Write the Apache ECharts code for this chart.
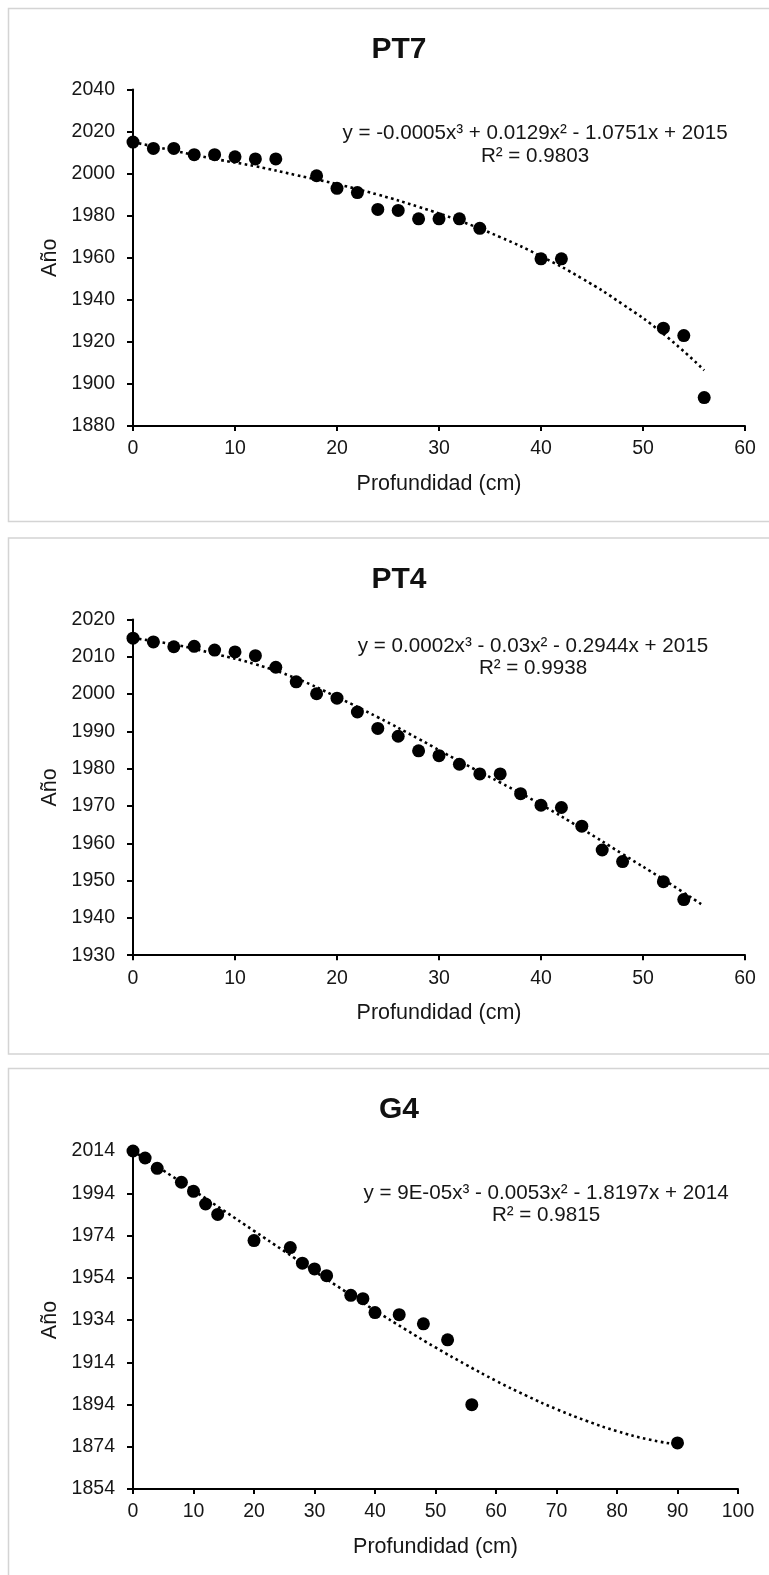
<!DOCTYPE html>
<html>
<head>
<meta charset="utf-8">
<script src="https://cdn.jsdelivr.net/npm/echarts@6/dist/echarts.min.js"></script>
<style>
html,body{margin:0;padding:0;background:#fff;}
#chart{width:769px;height:1575px;}
</style>
</head>
<body>
<div id="chart"></div>
<script>
// ---------- data ----------
var titles = ['PT7', 'PT4', 'G4'];
var xAxisName = 'Profundidad (cm)';
var yAxisName = 'Año';

var PT7_depth = [0,2,4,6,8,10,12,14,18,20,22,24,26,28,30,32,34,40,42,52,54,56];
var PT7_year  = [2015,2012,2012,2009,2009,2008,2007,2007,1999,1993,1991,1983,1982.5,1978.5,1978.5,1978.5,1974,1959.5,1959.5,1926.5,1923,1893.5];
var PT7_trendDepth = [0,4,8,12,16,20,24,28,32,36,40,44,48,52,56];
var PT7_trendYear  = [2015,2010.9,2007,2003.5,1999.3,1995,1990,1984.2,1977.6,1969.8,1960.7,1950.2,1937.9,1923.8,1906.5];
var PT7_eq = 'y = -0.0005x³ + 0.0129x² - 1.0751x + 2015';
var PT7_r2 = 'R² = 0.9803';

var PT4_depth = [0,2,4,6,8,10,12,14,16,18,20,22,24,26,28,30,32,34,36,38,40,42,44,46,48,52,54];
var PT4_year  = [2015,2014,2012.7,2012.8,2011.8,2011.3,2010.3,2007.2,2003.3,2000.1,1998.9,1995.2,1990.8,1988.7,1984.8,1983.5,1981.2,1978.6,1978.6,1973.3,1970.2,1969.6,1964.6,1958.2,1955.1,1949.7,1944.9];
var PT4_trendDepth = [0,4,8,12,16,20,24,28,32,36,40,44,48,52,55.7];
var PT4_trendYear  = [2015,2013.3,2010.8,2008,2004.2,1999.2,1993.8,1988,1982,1976.3,1970.4,1963.9,1957.1,1950.3,1943.7];
var PT4_eq = 'y = 0.0002x³ - 0.03x² - 0.2944x + 2015';
var PT4_r2 = 'R² = 0.9938';

var G4_depth = [0,2,4,8,10,12,14,20,26,28,30,32,36,38,40,44,48,52,56,90];
var G4_year  = [2014,2010.7,2005.8,1999.2,1994.9,1988.9,1984,1971.6,1968.3,1960.9,1958.2,1955,1945.7,1944.1,1937.5,1936.5,1932.2,1924.6,1893.9,1875.8];
var G4_trendDepth = [0,5,10,15,20,25,30,35,40,45,50,55,60,65,70,75,80,85,90];
var G4_trendYear  = [2014,2004.8,1995.4,1985.8,1976.2,1966.6,1957.1,1947.7,1938.5,1929.6,1921,1912.9,1905.2,1898.2,1891.8,1886.2,1881.4,1877.6,1875];
var G4_eq = 'y = 9E-05x³ - 0.0053x² - 1.8197x + 2014';
var G4_r2 = 'R² = 0.9815';

// axis ranges / tick steps
var yMin = [1880, 1930, 1854];
var yMax = [2040, 2020, 2014];
var yStep = [20, 10, 20];
var xMax = [60, 60, 100];
var xStep = [10, 10, 10];

// ---------- layout ----------
var FONT = '"Liberation Sans", Arial, Helvetica, sans-serif';
var TXT = '#161616';
var grids = [
  {left:133, top:89.5, width:612, height:336.5},
  {left:133, top:619.5, width:612, height:335.7},
  {left:133, top:1151, width:605, height:338}
];
var titleY = [29, 559.5, 1089.5];
var eqX = [530, 528, 541];
var eqTop = [117.3, 629.8, 1176.8];
var panels = [
  {y:8.5, h:513},
  {y:538, h:516},
  {y:1068.5, h:600}
];

var pairs = function(xs, ys){ return xs.map(function(x,i){ return [x, ys[i]]; }); };
var pts = [pairs(PT7_depth, PT7_year), pairs(PT4_depth, PT4_year), pairs(G4_depth, G4_year)];
var trends = [pairs(PT7_trendDepth, PT7_trendYear), pairs(PT4_trendDepth, PT4_trendYear), pairs(G4_trendDepth, G4_trendYear)];
var eqs = [[PT7_eq, PT7_r2], [PT4_eq, PT4_r2], [G4_eq, G4_r2]];
var plain = function(v){ return String(v); };

var title = [], xAxis = [], yAxis = [], series = [], graphic = [];
for (var i = 0; i < 3; i++) {
  graphic.push({
    type:'rect', silent:true, z:-10,
    shape:{x:8.5, y:panels[i].y, width:800, height:panels[i].h},
    style:{fill:'#fff', stroke:'#d4d4d4', lineWidth:1.5}
  });
  title.push({
    text: titles[i], left: 394, top: titleY[i], textAlign:'center',
    textStyle:{fontFamily:FONT, fontSize:30, fontWeight:'bold', color:'#111', lineHeight:31}
  });
  title.push({
    text: eqs[i][0] + '\n' + eqs[i][1], left: eqX[i], top: eqTop[i], textAlign:'center',
    textStyle:{fontFamily:FONT, fontSize:20.6, fontWeight:'normal', color:TXT, lineHeight:22.5, align:'center'}
  });
  xAxis.push({
    type:'value', gridIndex:i, min:0, max:xMax[i], interval:xStep[i],
    name:xAxisName, nameLocation:'middle', nameGap:47,
    nameTextStyle:{fontFamily:FONT, fontSize:21.5, color:TXT},
    axisLine:{show:true, onZero:false, lineStyle:{color:'#000', width:2}},
    axisTick:{show:true, length:5, lineStyle:{color:'#000', width:2}},
    axisLabel:{fontFamily:FONT, fontSize:19.5, color:TXT, margin:13, formatter:plain},
    splitLine:{show:false}
  });
  yAxis.push({
    type:'value', gridIndex:i, min:yMin[i], max:yMax[i], interval:yStep[i],
    name:yAxisName, nameLocation:'middle', nameGap:69,
    nameTextStyle:{fontFamily:FONT, fontSize:21.5, color:TXT},
    axisLine:{show:true, onZero:false, lineStyle:{color:'#000', width:2}},
    axisTick:{show:true, length:6, lineStyle:{color:'#000', width:2}},
    axisLabel:{fontFamily:FONT, fontSize:19.5, color:TXT, margin:18, formatter:plain},
    splitLine:{show:false}
  });
  series.push({
    type:'line', xAxisIndex:i, yAxisIndex:i, data:trends[i], smooth:true,
    showSymbol:false, silent:true, z:3,
    lineStyle:{color:'#000', width:2.6, type:[2.6, 3.4]}
  });
  series.push({
    type:'scatter', xAxisIndex:i, yAxisIndex:i, data:pts[i], symbol:'circle', symbolSize:13, z:2,
    itemStyle:{color:'#000', opacity:1}
  });
}

var chart = echarts.init(document.getElementById('chart'), null, {renderer:'canvas'});
chart.setOption({
  animation:false,
  backgroundColor:'#fff',
  graphic:graphic,
  title:title,
  grid:grids,
  xAxis:xAxis,
  yAxis:yAxis,
  series:series
});
</script>
</body>
</html>
